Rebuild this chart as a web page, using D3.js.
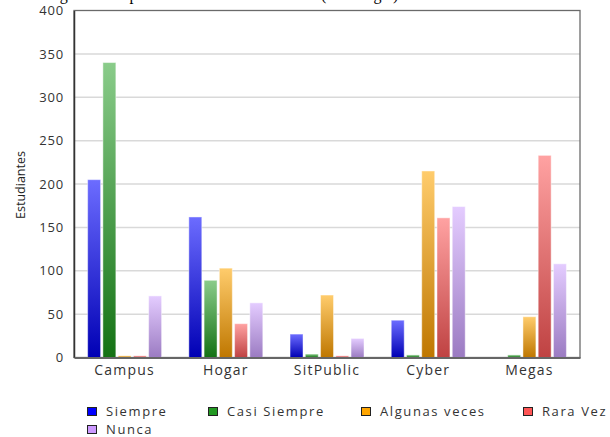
<!DOCTYPE html>
<html>
<head>
<meta charset="utf-8">
<script src="https://cdn.jsdelivr.net/npm/d3@7"></script>
<style>
  html, body { margin: 0; padding: 0; background: #fff; }
  svg { display: block; font-family: "Open Sans", "Noto Sans", sans-serif; }
</style>
</head>
<body>
<svg id="chart" width="610" height="437"></svg>
<script>
// Places where students connect, grouped by how often they use each one
const categories = ["Campus", "Hogar", "SitPublic", "Cyber", "Megas"];
const seriesNames = ["Siempre", "Casi Siempre", "Algunas veces", "Rara Vez", "Nunca"];
const siempre      = [205, 162, 27, 43, 0];
const casiSiempre  = [340, 89, 4, 3, 3];
const algunasVeces = [2, 103, 72, 215, 47];
const raraVez      = [2, 39, 2, 161, 233];
const nunca        = [71, 63, 22, 174, 108];
const yTicks = [0, 50, 100, 150, 200, 250, 300, 350, 400];

const seriesValues = [siempre, casiSiempre, algunasVeces, raraVez, nunca];
const swatch  = ["#0000ff", "#229922", "#ffa500", "#ff5555", "#cc99ff"];
const gradTop = ["#6c6cff", "#8acc8a", "#ffcc6c", "#ffa2a2", "#e4ccff"];
const gradBot = ["#0000b4", "#147214", "#bf7700", "#bf4242", "#9b7bc2"];

const svg = d3.select("#chart");
const plotL = 74, plotR = 580, plotT = 10.5, plotB = 357.5;

const x0 = d3.scaleBand().domain(categories).range([plotL, plotR]);
const x1 = d3.scaleBand().domain(seriesNames)
  .range([12.5, 88.75]).paddingInner(0.15).paddingOuter(0.075);
const y = d3.scaleLinear().domain([0, 400]).range([plotB, plotT]);

// Vertical gradients, one per series
const defs = svg.append("defs");
seriesNames.forEach((s, i) => {
  const g = defs.append("linearGradient").attr("id", "grad" + i)
    .attr("x1", 0).attr("y1", 0).attr("x2", 0).attr("y2", 1);
  g.append("stop").attr("offset", "0%").attr("stop-color", gradTop[i]);
  g.append("stop").attr("offset", "100%").attr("stop-color", gradBot[i]);
});

// Heading above the plot (runs off the top edge)
svg.append("text")
  .attr("x", 42).attr("y", 0)
  .attr("font-family", "'Liberation Serif', 'Times New Roman', serif")
  .attr("font-size", 16).attr("fill", "#000")
  .text("Lugar de uso por estudiantes universitarios (tecnología)");

// Horizontal grid
svg.append("g")
  .selectAll("line")
  .data(yTicks.filter(t => t > 0 && t < 400))
  .join("line")
  .attr("x1", plotL).attr("x2", plotR)
  .attr("y1", d => y(d)).attr("y2", d => y(d))
  .attr("stroke", "#d9d9d9").attr("stroke-width", 1.5);

// Plot frame
svg.append("rect")
  .attr("x", plotL).attr("y", plotT)
  .attr("width", plotR - plotL).attr("height", plotB - plotT)
  .attr("fill", "none").attr("stroke", "#6a6a6a").attr("stroke-width", 1.3);

// Bars
const groups = svg.append("g").selectAll("g")
  .data(categories)
  .join("g")
  .attr("transform", d => `translate(${x0(d)},0)`);

groups.selectAll("rect")
  .data((c, ci) => seriesNames.map((s, si) => ({ s, si, v: seriesValues[si][ci] })))
  .join("rect")
  .attr("x", d => x1(d.s))
  .attr("width", x1.bandwidth())
  .attr("y", d => y(d.v))
  .attr("height", d => y(0) - y(d.v))
  .attr("fill", d => `url(#grad${d.si})`)
  .attr("stroke", "rgba(255,255,255,0.45)")
  .attr("stroke-width", 1);

// Axes
const yAxis = d3.axisLeft(y).tickValues(yTicks).tickSize(0).tickPadding(10);
const gy = svg.append("g").attr("transform", `translate(${plotL},0)`).call(yAxis);
gy.select(".domain").attr("stroke", "#333").attr("stroke-width", 1.5);
gy.selectAll("text").attr("font-size", 13).attr("fill", "#333")
  .attr("font-family", "'Open Sans', sans-serif")
  .style("letter-spacing", "0.8px");

const xAxis = d3.axisBottom(x0).tickSize(0).tickPadding(8);
const gx = svg.append("g").attr("transform", `translate(0,${plotB})`).call(xAxis);
gx.select(".domain").attr("stroke", "#666").attr("stroke-width", 2);
gx.selectAll("text").attr("font-size", 14).attr("fill", "#333")
  .attr("font-family", "'Open Sans', sans-serif")
  .style("letter-spacing", "1.2px");

// Y axis title
svg.append("text")
  .attr("transform", "translate(25,185) rotate(-90)")
  .attr("text-anchor", "middle")
  .attr("font-size", 12.5).attr("fill", "#222")
  .attr("font-family", "'Open Sans', sans-serif")
  .text("Estudiantes");

// Legend
const legendPos = [[87, 411], [208, 411], [361, 411], [523, 411], [87, 429]];
const legend = svg.append("g").selectAll("g")
  .data(seriesNames)
  .join("g")
  .attr("transform", (d, i) => `translate(${legendPos[i][0]},${legendPos[i][1]})`);
legend.append("rect")
  .attr("x", 0.5).attr("y", -3.5).attr("width", 9).attr("height", 8)
  .attr("fill", (d, i) => swatch[i]).attr("stroke", "#222").attr("stroke-width", 1);
legend.append("text")
  .attr("x", 19).attr("y", 0).attr("dy", "0.35em")
  .attr("font-size", 13).attr("fill", "#333")
  .attr("font-family", "'Open Sans', sans-serif")
  .style("letter-spacing", "1.6px")
  .text(d => d);
</script>
</body>
</html>
